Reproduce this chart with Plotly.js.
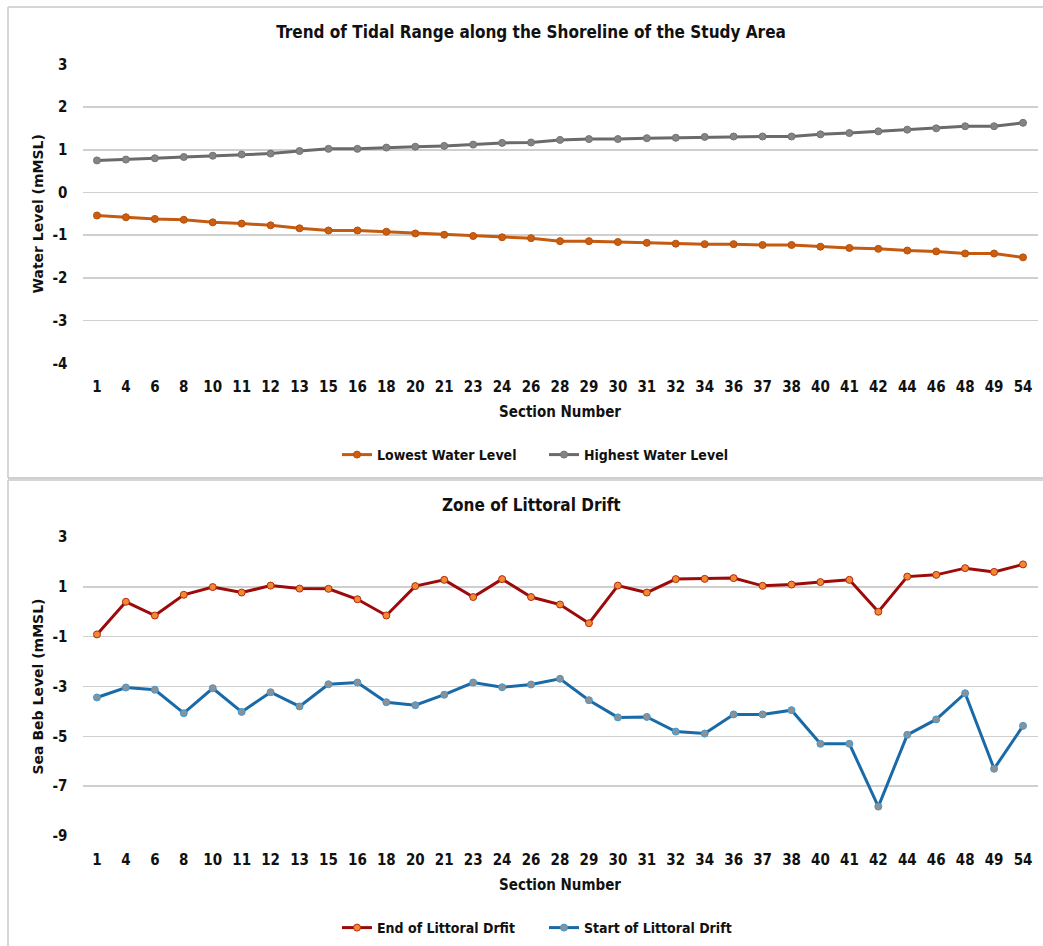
<!DOCTYPE html>
<html>
<head>
<meta charset="utf-8">
<script src="https://cdn.plot.ly/plotly-3.0.1.min.js"></script>
<style>
  html, body { margin: 0; padding: 0; background: #ffffff; }
  #chart { width: 1043px; height: 946px; }
</style>
</head>
<body>
<div id="chart"></div>
<script>
// ---- data ----
const sections = ["1","4","6","8","10","11","12","13","15","16","18","20","21","23","24","26","28","29","30","31","32","34","36","37","38","40","41","42","44","46","48","49","54"];

const lowestWaterLevel = [-0.54,-0.58,-0.62,-0.64,-0.70,-0.73,-0.77,-0.84,-0.89,-0.89,-0.92,-0.96,-0.99,-1.02,-1.05,-1.07,-1.14,-1.14,-1.16,-1.18,-1.20,-1.21,-1.21,-1.23,-1.23,-1.27,-1.30,-1.32,-1.36,-1.38,-1.43,-1.43,-1.52];
const highestWaterLevel = [0.75,0.77,0.80,0.83,0.86,0.89,0.91,0.97,1.02,1.02,1.05,1.07,1.09,1.12,1.16,1.17,1.23,1.25,1.25,1.27,1.28,1.30,1.31,1.31,1.31,1.36,1.39,1.43,1.47,1.50,1.55,1.55,1.63];

const endLittoralDrift = [-0.91,0.40,-0.15,0.68,0.99,0.77,1.05,0.93,0.92,0.50,-0.15,1.03,1.28,0.59,1.31,0.59,0.29,-0.46,1.05,0.77,1.31,1.32,1.35,1.04,1.09,1.19,1.28,0.00,1.41,1.48,1.75,1.60,1.90];
const startLittoralDrift = [-3.44,-3.04,-3.13,-4.07,-3.07,-4.02,-3.23,-3.80,-2.91,-2.84,-3.63,-3.75,-3.33,-2.84,-3.03,-2.92,-2.69,-3.55,-4.24,-4.22,-4.81,-4.89,-4.12,-4.12,-3.95,-5.30,-5.30,-7.82,-4.94,-4.32,-3.27,-6.30,-4.58];

const topTicks = [-4,-3,-2,-1,0,1,2,3];
const topTickLabels = ["-4","-3","-2","-1","0","1","2","3"];
const bottomTicks = [-9,-7,-5,-3,-1,1,3];
const bottomTickLabels = ["-9","-7","-5","-3","-1","1","3"];

const topTitle = "Trend of Tidal Range along the Shoreline of the Study Area";
const bottomTitle = "Zone of Littoral Drift";
const xTitle = "Section Number";
const topYTitle = "Water Level (mMSL)";
const bottomYTitle = "Sea Beb Level (mMSL)";

// ---- layout helpers ----
const W = 1043, H = 946;
const px = v => v / W;
const py = v => 1 - v / H;
const narrow = '"Liberation Sans Narrow", "DejaVu Sans Condensed", "Roboto", sans-serif';
const wide = '"DejaVu Sans", "Open Sans", sans-serif';
const ink = "#111111";

const traces = [
  {x: sections, y: lowestWaterLevel, name: "Lowest Water Level", type: "scatter", mode: "lines+markers",
   xaxis: "x", yaxis: "y", legend: "legend",
   line: {color: "#C55A11", width: 3}, marker: {color: "#CC5E10", size: 7, line: {color: "#B4500C", width: 1}}},
  {x: sections, y: highestWaterLevel, name: "Highest Water Level", type: "scatter", mode: "lines+markers",
   xaxis: "x", yaxis: "y", legend: "legend",
   line: {color: "#6A6A6A", width: 3}, marker: {color: "#848484", size: 7, line: {color: "#737373", width: 1}}},
  {x: sections, y: endLittoralDrift, name: "End of Littoral Drfit", type: "scatter", mode: "lines+markers",
   xaxis: "x2", yaxis: "y2", legend: "legend2",
   line: {color: "#9C0A0A", width: 3}, marker: {color: "#F08A30", size: 7, line: {color: "#B52A12", width: 1}}},
  {x: sections, y: startLittoralDrift, name: "Start of Littoral Drift", type: "scatter", mode: "lines+markers",
   xaxis: "x2", yaxis: "y2", legend: "legend2",
   line: {color: "#1A6AA8", width: 3}, marker: {color: "#8E9092", size: 7, line: {color: "#3C9AD6", width: 1}}}
];

const xCommon = {
  type: "category", categoryorder: "array", categoryarray: sections,
  range: [-0.5, sections.length - 0.5], domain: [px(82.5), px(1037.5)],
  showgrid: false, zeroline: false, showline: false, ticks: "",
  ticklabelstandoff: 13,
  tickfont: {family: narrow, size: 15, color: ink, weight: "bold"},
  fixedrange: true
};
const yCommon = {
  tickmode: "array",
  showgrid: true, gridcolor: "#CFCFCF", gridwidth: 1.6, zeroline: false, showline: false,
  ticks: "", ticklabelstandoff: 14,
  tickfont: {family: narrow, size: 15, color: ink, weight: "bold"},
  fixedrange: true
};
const legendCommon = {orientation: "h", xanchor: "left", yanchor: "middle",
  font: {family: narrow, size: 14, color: ink, weight: "bold"},
  itemwidth: 30, entrywidth: 162, entrywidthmode: "pixels", bgcolor: "rgba(0,0,0,0)"};

const layout = {
  width: W, height: H,
  margin: {l: 0, r: 0, t: 0, b: 0},
  paper_bgcolor: "#ffffff", plot_bgcolor: "#ffffff",
  showlegend: true,
  title: {text: topTitle, x: px(531), xanchor: "center", y: py(32), yanchor: "middle",
          font: {family: narrow, size: 17, color: ink, weight: "bold"}},
  xaxis: Object.assign({}, xCommon, {anchor: "y",
    title: {text: xTitle, standoff: 11, font: {family: narrow, size: 15, color: ink, weight: "bold"}}}),
  yaxis: Object.assign({}, yCommon, {anchor: "x", domain: [py(363.3), py(64.3)], range: [-4, 3],
    tickvals: topTicks, ticktext: topTickLabels,
    title: {text: topYTitle, standoff: 5, font: {family: wide, size: 14, color: ink, weight: "bold"}}}),
  xaxis2: Object.assign({}, xCommon, {anchor: "y2",
    title: {text: xTitle, standoff: 11, font: {family: narrow, size: 15, color: ink, weight: "bold"}}}),
  yaxis2: Object.assign({}, yCommon, {anchor: "x2", domain: [py(836), py(537)], range: [-9, 3],
    tickvals: bottomTicks, ticktext: bottomTickLabels,
    title: {text: bottomYTitle, standoff: 5, font: {family: wide, size: 14, color: ink, weight: "bold"}}}),
  legend: Object.assign({}, legendCommon, {x: px(337), y: py(455)}),
  legend2: Object.assign({}, legendCommon, {x: px(337), y: py(928)}),
  annotations: [
    {text: bottomTitle, xref: "paper", yref: "paper", x: px(531), y: py(505), xanchor: "center", yanchor: "middle",
     showarrow: false, font: {family: narrow, size: 17, color: ink, weight: "bold"}}
  ],
  shapes: [
    {type: "line", xref: "paper", yref: "paper", x0: px(8), x1: 1.02, y0: py(7), y1: py(7), line: {color: "#C8C8C8", width: 1.5}},
    {type: "line", xref: "paper", yref: "paper", x0: px(8), x1: px(8), y0: py(7), y1: py(478), line: {color: "#C8C8C8", width: 1.5}},
    {type: "line", xref: "paper", yref: "paper", x0: px(8), x1: 1.02, y0: py(478), y1: py(478), line: {color: "#C0C0C0", width: 1.5}},
    {type: "line", xref: "paper", yref: "paper", x0: px(8), x1: 1.02, y0: py(480), y1: py(480), line: {color: "#C8C8C8", width: 1.5}},
    {type: "line", xref: "paper", yref: "paper", x0: px(8), x1: px(8), y0: py(480), y1: -0.02, line: {color: "#C8C8C8", width: 1.5}}
  ]
};

Plotly.newPlot("chart", traces, layout, {displayModeBar: false, staticPlot: true});
</script>
</body>
</html>
